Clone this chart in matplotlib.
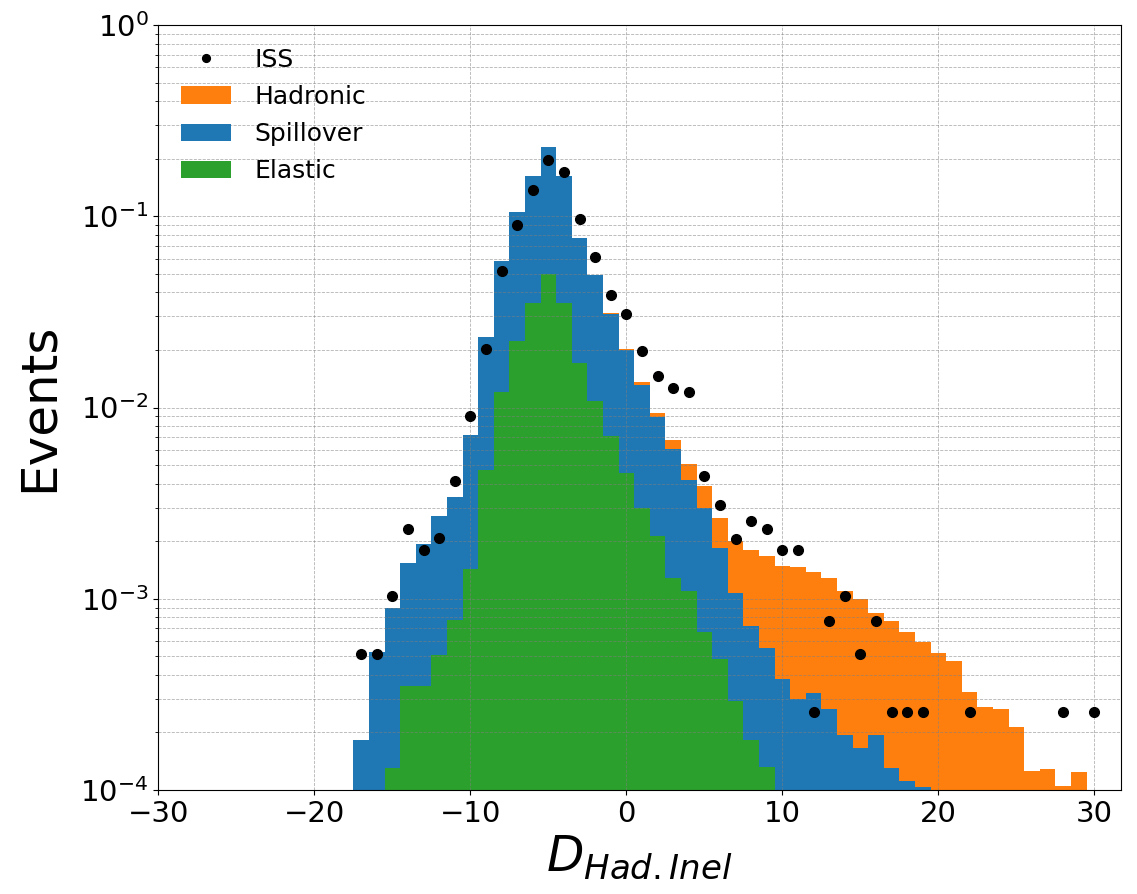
import numpy as np
import matplotlib.pyplot as plt

# bin centres (width 1) for the simulated templates
centers = np.arange(-17, 30)

elastic = [0, 0, 1.30e-4, 3.5e-4, 3.5e-4, 5.1e-4, 7.7e-4, 1.43e-3, 4.72e-3,
           0.0120, 0.0223, 0.0353, 0.0498, 0.0353, 0.0170, 0.0108, 7.08e-3,
           4.52e-3, 2.97e-3, 2.12e-3, 1.29e-3, 1.10e-3, 6.73e-4, 4.85e-4,
           2.92e-4, 1.83e-4, 1.32e-4,
           0, 0, 0, 0, 0, 0, 0, 0, 0, 0, 0, 0, 0, 0, 0, 0, 0, 0, 0, 0]

spillover = [1.83e-4, 5.3e-4, 7.7e-4, 1.18e-3, 1.59e-3, 2.20e-3, 2.63e-3,
             5.73e-3, 0.01878, 0.0466, 0.0834, 0.1272, 0.1812, 0.1272,
             0.0597, 0.0383, 0.02392, 0.01538, 0.01017, 6.80e-3, 4.77e-3,
             3.10e-3, 2.30e-3, 1.365e-3, 7.78e-4, 5.40e-4, 4.20e-4, 3.80e-4,
             2.98e-4, 3.23e-4, 2.65e-4, 1.94e-4, 1.66e-4, 1.94e-4, 1.31e-4,
             1.11e-4, 1.04e-4,
             0, 0, 0, 0, 0, 0, 0, 0, 0, 0]

hadronic = [0, 0, 0, 0, 0, 0, 0, 0, 0, 0, 0, 0, 0, 0, 0, 0,
            3e-4, 3e-4, 4.4e-4, 4.8e-4, 7.0e-4, 8.5e-4, 9.0e-4, 8.1e-4,
            9.3e-4, 1.07e-3, 1.13e-3, 1.11e-3, 1.16e-3, 1.05e-3, 1.02e-3,
            9.1e-4, 8.3e-4, 6.5e-4, 6.3e-4, 5.6e-4, 4.9e-4, 5.20e-4, 4.75e-4,
            3.25e-4, 2.72e-4, 2.65e-4, 2.13e-4, 1.26e-4, 1.29e-4, 1.05e-4,
            1.24e-4]

# ISS data points
iss_x = [-17, -16, -15, -14, -13, -12, -11, -10, -9, -8, -7, -6, -5, -4, -3,
         -2, -1, 0, 1, 2, 3, 4, 5, 6, 7, 8, 9, 10, 11, 12, 13, 14, 15, 16,
         17, 18, 19, 22, 28, 30]
iss_y = [5.15e-4, 5.15e-4, 1.04e-3, 2.31e-3, 1.80e-3, 2.07e-3, 4.12e-3,
         9.04e-3, 0.0202, 0.0520, 0.0900, 0.138, 0.197, 0.171, 0.0965,
         0.0613, 0.0388, 0.0307, 0.0198, 0.01467, 0.01262, 0.01211, 4.37e-3,
         3.10e-3, 2.06e-3, 2.56e-3, 2.31e-3, 1.80e-3, 1.80e-3, 2.56e-4,
         7.69e-4, 1.03e-3, 5.15e-4, 7.69e-4, 2.56e-4, 2.56e-4, 2.56e-4,
         2.56e-4, 2.56e-4, 2.56e-4]

edges = np.arange(-17.5, 30.5, 1.0)

fig = plt.figure(figsize=(11.37, 8.94), dpi=100)
ax = fig.add_axes([0.1392, 0.1163, 0.8467, 0.8557])

ax.hist([centers, centers, centers], bins=edges,
        weights=[elastic, spillover, hadronic], stacked=True,
        histtype='stepfilled', log=True,
        color=['tab:green', 'tab:blue', 'tab:orange'],
        label=['Elastic', 'Spillover', 'Hadronic'])
ax.plot(iss_x, iss_y, 'o', color='black', ms=7, label='ISS')

ax.set_xlim(-30, 31.7)
ax.set_ylim(1e-4, 1)
ax.grid(True, which='both', linestyle='--', color='grey', lw=0.6, alpha=0.6)
ax.tick_params(axis='both', which='major', labelsize=21)

ax.set_xlabel(r'$D_{Had.Inel}$', fontsize=35)
ax.set_ylabel('Events', fontsize=36, labelpad=13)

handles, labels = ax.get_legend_handles_labels()
order = [labels.index(n) for n in ['ISS', 'Hadronic', 'Spillover', 'Elastic']]
ax.legend([handles[i] for i in order], [labels[i] for i in order],
          loc='upper left', frameon=False, fontsize=18, markerscale=0.8,
          handletextpad=0.95, labelspacing=0.53)

fig.savefig('out.png', dpi=100)
